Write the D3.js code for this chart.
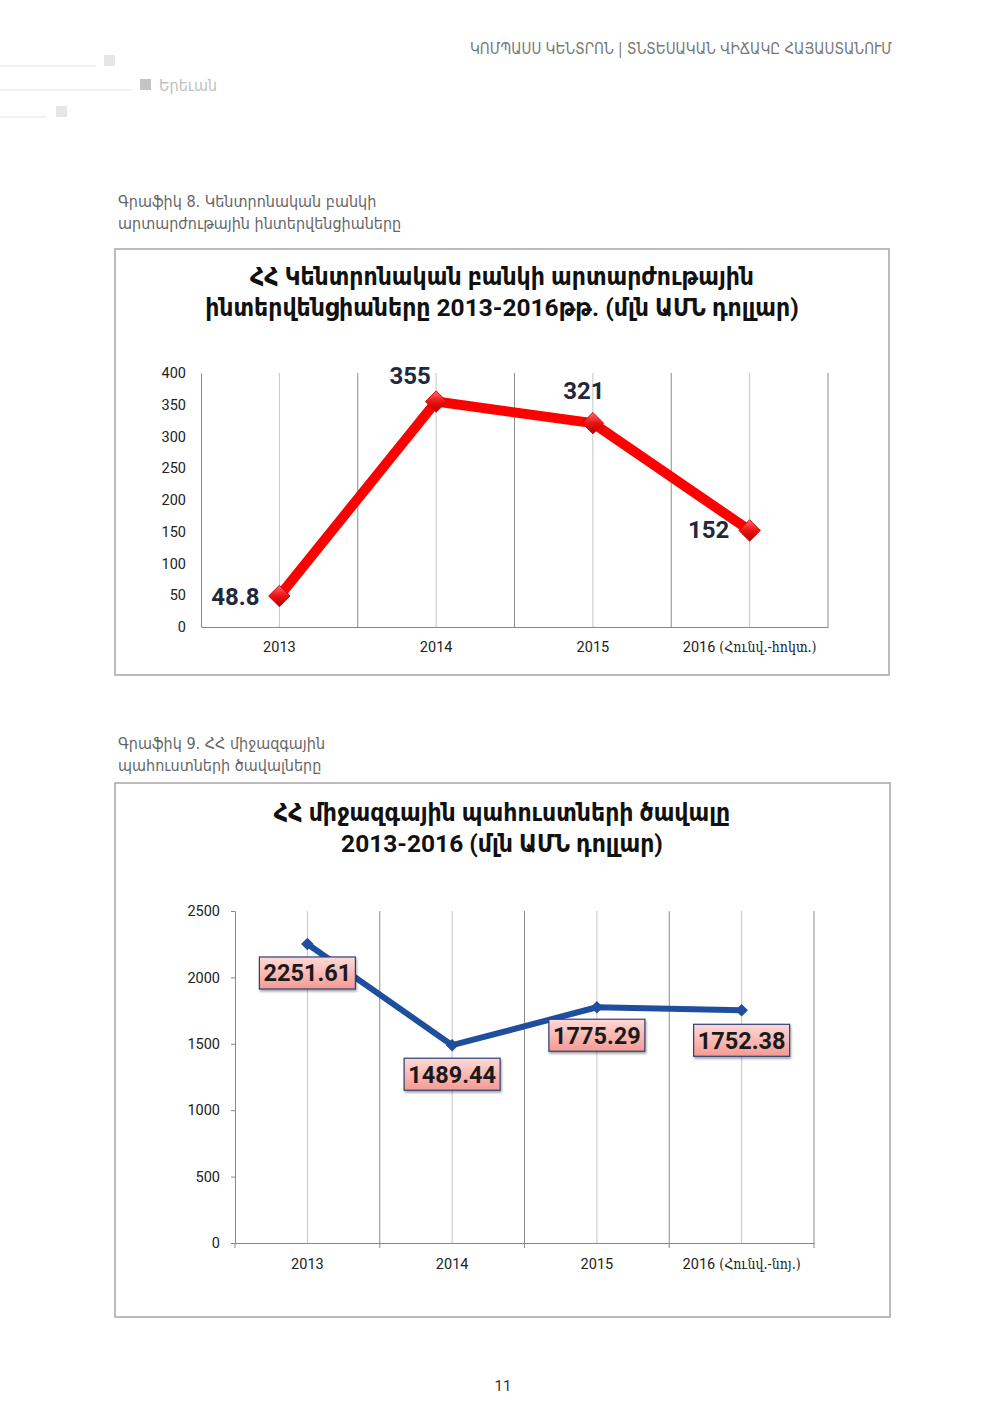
<!DOCTYPE html>
<html>
<head>
<meta charset="utf-8">
<script src="https://cdn.jsdelivr.net/npm/d3@7"></script>
<style>
  body { margin: 0; background: #fff; }
  svg { display: block; }
  text { font-family: Roboto, "DejaVu Sans Condensed", "DejaVu Sans", sans-serif; }
</style>
</head>
<body>
<svg id="page" width="1000" height="1414"></svg>
<script>
// chart 8 - central bank interventions
var years1 = ["2013", "2014", "2015", "2016"];
var years1Note = ["", "", "", " (Հունվ.-հոկտ.)"];
var interventions = [48.8, 355, 321, 152];
var ticks1 = [0, 50, 100, 150, 200, 250, 300, 350, 400];

// chart 9 - international reserves
var years2 = ["2013", "2014", "2015", "2016"];
var years2Note = ["", "", "", " (Հունվ.-նոյ.)"];
var reserves = [2251.61, 1489.44, 1775.29, 1752.38];
var ticks2 = [0, 500, 1000, 1500, 2000, 2500];

var svg = d3.select("#page");

var defs = svg.append("defs");
var rg = defs.append("linearGradient").attr("id", "redDia").attr("x1", 0).attr("y1", 0).attr("x2", 1).attr("y2", 1);
rg.append("stop").attr("offset", "0%").attr("stop-color", "#ff6b6b");
rg.append("stop").attr("offset", "50%").attr("stop-color", "#ee1111");
rg.append("stop").attr("offset", "100%").attr("stop-color", "#b00000");
var pg = defs.append("linearGradient").attr("id", "pinkBox").attr("x1", 0).attr("y1", 0).attr("x2", 0).attr("y2", 1);
pg.append("stop").attr("offset", "0%").attr("stop-color", "#ffd9d6");
pg.append("stop").attr("offset", "100%").attr("stop-color", "#f59a93");
var sh = defs.append("filter").attr("id", "shadow").attr("x", "-20%").attr("y", "-20%").attr("width", "140%").attr("height", "160%");
sh.append("feDropShadow").attr("dx", 1).attr("dy", 2).attr("stdDeviation", 1.2).attr("flood-color", "#000").attr("flood-opacity", 0.35);

// ---- page header ----
svg.append("text")
  .attr("x", 892).attr("y", 54)
  .attr("text-anchor", "end")
  .attr("font-size", 15)
  .attr("fill", "#777")
  .style("font-family", "'DejaVu Sans Condensed', sans-serif")
  .text("ԿՈՄՊԱՍՍ ԿԵՆՏՐՈՆ | ՏՆՏԵՍԱԿԱՆ ՎԻՃԱԿԸ ՀԱՅԱՍՏԱՆՈՒՄ");

var deco = [{len: 95, y: 66, sq: 104}, {len: 132, y: 90, sq: 140}, {len: 47, y: 117, sq: 56}];
deco.forEach(function(d){
  svg.append("line").attr("x1", 0).attr("x2", d.len).attr("y1", d.y).attr("y2", d.y)
    .attr("stroke", "#e3e3e3").attr("stroke-width", 1);
  svg.append("rect").attr("x", d.sq).attr("y", d.y - 11).attr("width", 11).attr("height", 11)
    .attr("fill", d.len == 132 ? "#c4c4c4" : "#e6e6e6");
});
svg.append("text").attr("x", 159).attr("y", 91)
  .attr("font-size", 16).attr("fill", "#c0c0c0")
  .style("font-family", "'DejaVu Sans Condensed', sans-serif")
  .text("Երեւան");

// page number
svg.append("text").attr("x", 503).attr("y", 1391).attr("text-anchor", "middle")
  .attr("font-size", 15).attr("fill", "#333").text("11");

function caption(y, lines){
  lines.forEach(function(t, i){
    svg.append("text").attr("x", 118).attr("y", y + i * 22)
      .attr("font-size", 16).attr("fill", "#666")
      .style("font-family", "'DejaVu Sans Condensed', sans-serif")
      .style("font-weight", 300)
      .text(t);
  });
}

function frame(x, y, w, h, titleLines, ty){
  svg.append("rect").attr("x", x).attr("y", y).attr("width", w).attr("height", h)
    .attr("fill", "#fff").attr("stroke", "#a6a6a6").attr("stroke-width", 1.5);
  titleLines.forEach(function(t, i){
    svg.append("text").attr("x", 502).attr("y", ty + i * 31)
      .attr("text-anchor", "middle")
      .attr("font-size", 24.5).attr("fill", "#111")
      .style("font-family", "Roboto, 'DejaVu Sans Condensed', sans-serif")
      .style("font-weight", "bold")
      .text(t);
  });
}

// ================= chart 8 =================
caption(207, ["Գրաֆիկ 8. Կենտրոնական բանկի", "արտարժութային ինտերվենցիաները"]);
frame(115, 249, 774, 426,
  ["ՀՀ Կենտրոնական բանկի արտարժութային", "ինտերվենցիաները 2013-2016թթ. (մլն ԱՄՆ դոլլար)"], 285);

(function(){
  var x = d3.scaleBand().domain(years1).range([201, 828]);
  var y = d3.scaleLinear().domain([0, 400]).range([627, 373]);
  var g = svg.append("g");

  // vertical grid: band edges and centres
  years1.forEach(function(d){
    g.append("line").attr("x1", x(d) + x.bandwidth()).attr("x2", x(d) + x.bandwidth())
      .attr("y1", y(400)).attr("y2", y(0)).attr("stroke", "#8c8c8c").attr("stroke-width", 1);
    g.append("line").attr("x1", x(d) + x.bandwidth() / 2).attr("x2", x(d) + x.bandwidth() / 2)
      .attr("y1", y(400)).attr("y2", y(0)).attr("stroke", "#c4c4c4").attr("stroke-width", 1);
  });

  var ya = g.append("g").attr("transform", "translate(201,0)")
    .call(d3.axisLeft(y).tickValues(ticks1).tickSize(0).tickPadding(15));
  ya.select(".domain").attr("stroke", "#888");
  ya.selectAll("text").attr("font-size", 14.5).attr("fill", "#222").style("font-family", "Roboto, sans-serif");

  var xa = g.append("g").attr("transform", "translate(0,627)")
    .call(d3.axisBottom(x).tickSize(0).tickPadding(15));
  xa.select(".domain").attr("stroke", "#888");
  xa.selectAll("text").attr("font-size", 14.5).attr("fill", "#222")
    .text(null)
    .each(function(d, i){
      var t = d3.select(this);
      t.append("tspan").text(d);
      if (years1Note[i]) t.append("tspan").style("font-family", "'DejaVu Serif Condensed', 'DejaVu Serif', serif").attr("font-size", 14).text(years1Note[i]);
    });

  var line = d3.line().x(function(d, i){ return x(years1[i]) + x.bandwidth() / 2; }).y(function(d){ return y(d); });
  g.append("path").datum(interventions).attr("d", line)
    .attr("fill", "none").attr("stroke", "#ff0000").attr("stroke-width", 10).attr("stroke-linejoin", "round");

  g.selectAll(".dia").data(interventions).join("path")
    .attr("d", d3.symbol(d3.symbolSquare, 230)())
    .attr("transform", function(d, i){ return "translate(" + (x(years1[i]) + x.bandwidth() / 2) + "," + y(d) + ") rotate(45)"; })
    .attr("fill", "url(#redDia)").attr("stroke", "#c00000").attr("stroke-width", 0.8);

  var place = [{dx: -44, dy: 9}, {dx: -26, dy: -18}, {dx: -9, dy: -24}, {dx: -41, dy: 8}];
  g.selectAll(".lbl").data(interventions).join("text")
    .attr("x", function(d, i){ return x(years1[i]) + x.bandwidth() / 2 + place[i].dx; })
    .attr("y", function(d, i){ return y(d) + place[i].dy; })
    .attr("text-anchor", "middle")
    .attr("font-size", 24).attr("font-weight", "bold").attr("fill", "#1e2a3c")
    .text(function(d){ return d; });
})();

// ================= chart 9 =================
caption(749, ["Գրաֆիկ 9. ՀՀ միջազգային", "պահուստների ծավալները"]);
frame(115, 783, 775, 534,
  ["ՀՀ միջազգային պահուստների ծավալը", "2013-2016 (մլն ԱՄՆ դոլլար)"], 821);

(function(){
  var x = d3.scaleBand().domain(years2).range([235, 814]);
  var y = d3.scaleLinear().domain([0, 2500]).range([1243, 911]);
  var g = svg.append("g");

  years2.forEach(function(d){
    g.append("line").attr("x1", x(d) + x.bandwidth()).attr("x2", x(d) + x.bandwidth())
      .attr("y1", y(2500)).attr("y2", y(0)).attr("stroke", "#8c8c8c").attr("stroke-width", 1);
    g.append("line").attr("x1", x(d) + x.bandwidth() / 2).attr("x2", x(d) + x.bandwidth() / 2)
      .attr("y1", y(2500)).attr("y2", y(0)).attr("stroke", "#c4c4c4").attr("stroke-width", 1);
  });

  var ya = g.append("g").attr("transform", "translate(235,0)")
    .call(d3.axisLeft(y).tickValues(ticks2).tickFormat(d3.format("d")).tickSize(4).tickPadding(11));
  ya.select(".domain").attr("stroke", "#888");
  ya.selectAll("line").attr("stroke", "#888");
  ya.selectAll("text").attr("font-size", 14.5).attr("fill", "#222");

  var xa = g.append("g").attr("transform", "translate(0,1243)")
    .call(d3.axisBottom(x).tickSize(0).tickPadding(16));
  xa.select(".domain").attr("stroke", "#888");
  // tick marks at band edges
  [235].concat(years2.map(function(d){ return x(d) + x.bandwidth(); })).forEach(function(px){
    xa.append("line").attr("x1", px).attr("x2", px).attr("y1", 0).attr("y2", 5).attr("stroke", "#888");
  });
  xa.selectAll("text").attr("font-size", 14.5).attr("fill", "#222")
    .text(null)
    .each(function(d, i){
      var t = d3.select(this);
      t.append("tspan").text(d);
      if (years2Note[i]) t.append("tspan").style("font-family", "'DejaVu Serif Condensed', 'DejaVu Serif', serif").attr("font-size", 14).text(years2Note[i]);
    });

  var cx = function(i){ return x(years2[i]) + x.bandwidth() / 2; };
  var line = d3.line().x(function(d, i){ return cx(i); }).y(function(d){ return y(d); });
  g.append("path").datum(reserves).attr("d", line)
    .attr("fill", "none").attr("stroke", "#1f4e9e").attr("stroke-width", 6).attr("stroke-linejoin", "round");

  g.selectAll(".dia").data(reserves).join("path")
    .attr("d", d3.symbol(d3.symbolSquare, 80)())
    .attr("transform", function(d, i){ return "translate(" + cx(i) + "," + y(d) + ") rotate(45)"; })
    .attr("fill", "#1f4e9e");

  var place = [{dx: 0, dy: 29}, {dx: 0, dy: 29}, {dx: 0, dy: 28}, {dx: 0, dy: 30}];
  var lbl = g.selectAll(".lb").data(reserves).join("g")
    .attr("transform", function(d, i){ return "translate(" + (cx(i) + place[i].dx) + "," + (y(d) + place[i].dy) + ")"; });
  lbl.append("rect").attr("x", -48).attr("y", -16).attr("width", 96).attr("height", 32)
    .attr("fill", "url(#pinkBox)").attr("stroke", "#2b3f7a").attr("stroke-width", 1.2)
    .attr("filter", "url(#shadow)");
  lbl.append("text").attr("text-anchor", "middle").attr("y", 8.5)
    .attr("font-size", 23.5).attr("font-weight", "bold").attr("fill", "#1a1a1a")
    .text(function(d){ return d3.format(".2f")(d); });
})();
</script>
</body>
</html>
